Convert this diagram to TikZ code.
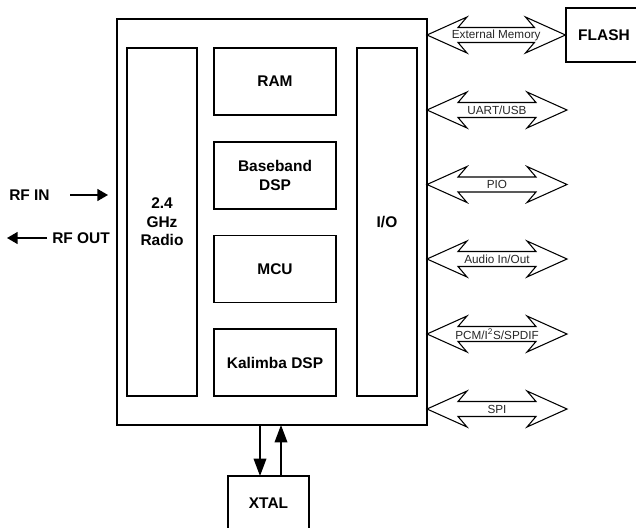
\documentclass[tikz,border=0pt]{standalone}
\usepackage{fontspec}
\setmainfont{Liberation Sans}
\usetikzlibrary{arrows.meta,calc}
\newcommand\busarrow[3]{%
  \draw[busline] (#1) -- ($(#1)+(40,-18)$) -- ($(#1)+(31,-7.5)$) -- ($(#2)+(-31,-7.5)$)
    -- ($(#2)+(-40,-18)$) -- (#2) -- ($(#2)+(-40,18)$) -- ($(#2)+(-31,7.5)$)
    -- ($(#1)+(31,7.5)$) -- ($(#1)+(40,18)$) -- cycle;
  \node[buslabel] at ($(#1)!0.5!(#2)$) {#3};}
\begin{document}
\begin{tikzpicture}[x=0.75pt,y=-0.75pt,
  box/.style={draw,line width=0.8pt,inner sep=0pt,align=center,
    font=\fontsize{11.6}{14}\selectfont\bfseries},
  outerbox/.style={draw,line width=1.6pt,inner sep=0pt},
  busline/.style={line width=0.8pt,line join=miter},
  buslabel/.style={inner sep=0pt,font=\fontsize{8.8}{10}\selectfont,text=black!85},
  sig/.style={line width=1.1pt,-{Triangle[length=8pt,width=9pt]}},
  xsig/.style={line width=1pt,-{Triangle[length=13pt,width=9.5pt]}},
  rflabel/.style={inner sep=0pt,anchor=west,font=\fontsize{11.6}{14}\selectfont\bfseries}
]
\useasboundingbox (0,0) rectangle (636,528);

% outer chip
\node[outerbox,minimum width=232.5pt,minimum height=304.5pt] (chip) at (272,222) {};

% inner blocks
\node[box,minimum width=52.5pt,minimum height=261pt] (radio) at (162,222) {2.4\\GHz\\Radio};
\node[box,minimum width=91.5pt,minimum height=50.25pt] (ram) at (275,81.5) {RAM};
\node[box,minimum width=91.5pt,minimum height=50.25pt] (bb) at (275,175.5) {Baseband\\DSP};
\node[box,minimum width=91.5pt,minimum height=50.25pt] (mcu) at (275,269) {MCU};
\node[box,minimum width=91.5pt,minimum height=50.25pt] (kal) at (275,362.5) {Kalimba DSP};
\node[box,minimum width=45pt,minimum height=261pt] (io) at (387,222) {I/O};

% external boxes
\node[box,minimum width=57pt,minimum height=40.5pt] (flash) at (604,35) {FLASH};
\node[box,minimum width=60.75pt,minimum height=40.5pt] (xtal) at (268.5,503) {XTAL};

% bus arrows
\coordinate (b1s) at (427,35);
\coordinate (b2s) at (427,110);  \coordinate (b2e) at (567,110);
\coordinate (b3s) at (427,184.5);\coordinate (b3e) at (567,184.5);
\coordinate (b4s) at (427,259);  \coordinate (b4e) at (567,259);
\coordinate (b5s) at (427,334);  \coordinate (b5e) at (567,334);
\coordinate (b6s) at (427,409);  \coordinate (b6e) at (567,409);
\busarrow{b1s}{flash.west}{External Memory}
\busarrow{b2s}{b2e}{UART/USB}
\busarrow{b3s}{b3e}{PIO}
\busarrow{b4s}{b4e}{Audio In/Out}
\busarrow{b5s}{b5e}{PCM/I\textsuperscript{2}S/SPDIF}
\busarrow{b6s}{b6e}{SPI}

% RF
\node[rflabel] (rfin) at (9,195) {RF IN};
\node[rflabel] (rfout) at (52,238) {RF OUT};
\coordinate (rfinA) at (70,195);
\coordinate (rfinB) at (108,195);
\coordinate (rfoutA) at (47,238);
\coordinate (rfoutB) at (7,238);
\draw[sig] (rfinA) -- (rfinB);
\draw[sig] (rfoutA) -- (rfoutB);

% XTAL
\coordinate (xd1) at (260,425);
\coordinate (xd2) at (260,476);
\coordinate (xu1) at (281,476);
\coordinate (xu2) at (281,425);
\draw[xsig] (xd1) -- (xd2);
\draw[xsig] (xu1) -- (xu2);
\end{tikzpicture}
\end{document}
